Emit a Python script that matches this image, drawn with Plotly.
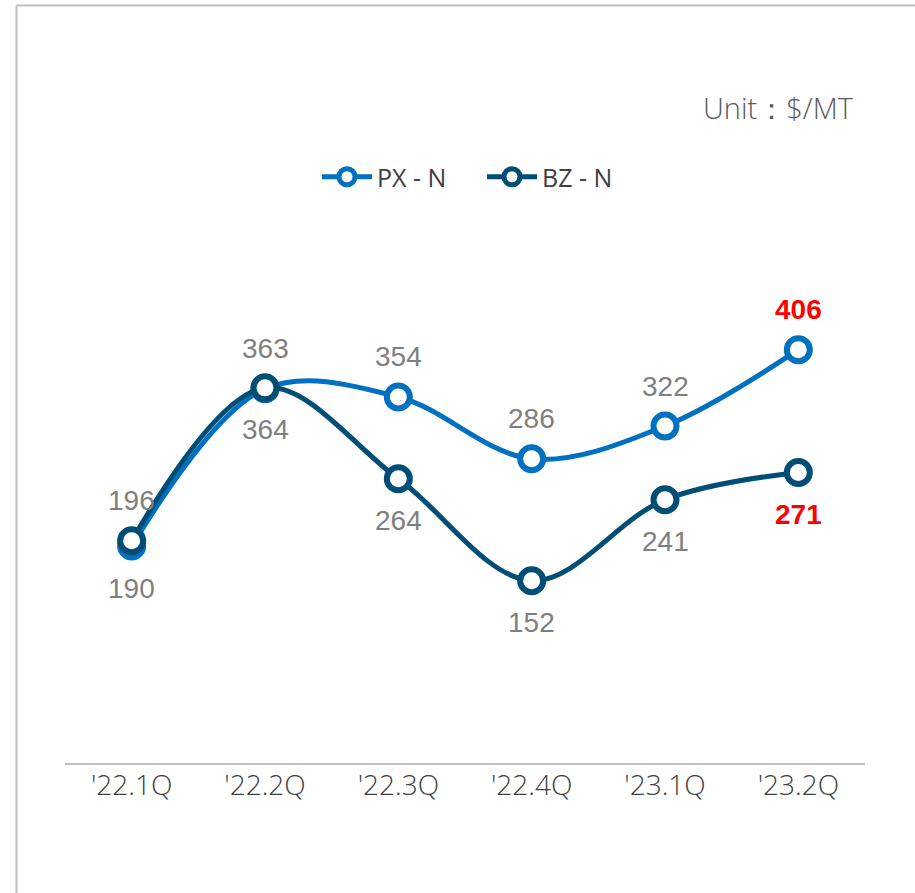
import plotly.graph_objects as go

# Quarterly naphtha spreads ($/MT)
quarters = ["'22.1Q", "'22.2Q", "'22.3Q", "'22.4Q", "'23.1Q", "'23.2Q"]
px_n = [190, 363, 354, 286, 322, 406]
bz_n = [196, 364, 264, 152, 241, 271]
px_label_side = ["below", "above", "above", "above", "above", "above"]
bz_label_side = ["above", "below", "below", "below", "below", "below"]

PX_COLOR = "#0070C0"
BZ_COLOR = "#004E75"
LABEL_GRAY = "#7F7F7F"
HIGHLIGHT = "#FF0000"

# geometry of the plotting area (pixels)
W, H = 915, 893
ML, MR, MT, MB = 65, 50, 230, 130
PLOT_W = W - ML - MR
PLOT_H = H - MT - MB
Y_RANGE = [-48.5, 537.6]


def px_to_paper_x(px):
    return (px - ML) / PLOT_W


def px_to_paper_y(py):
    return (H - MB - py) / PLOT_H


fig = go.Figure()

for name, vals, color in [("PX - N", px_n, PX_COLOR), ("BZ - N", bz_n, BZ_COLOR)]:
    fig.add_trace(go.Scatter(
        x=quarters, y=vals, name=name, mode="lines+markers",
        line=dict(color=color, width=5, shape="spline", smoothing=1.0),
        marker=dict(symbol="circle", size=23, color="white",
                    line=dict(color=color, width=6)),
        cliponaxis=False,
    ))

annotations = []
last = len(quarters) - 1
for vals, sides in [(px_n, px_label_side), (bz_n, bz_label_side)]:
    for i, (q, v, s) in enumerate(zip(quarters, vals, sides)):
        is_last = i == last
        annotations.append(dict(
            x=q, y=v, xref="x", yref="y", text=str(v), showarrow=False,
            yanchor="middle", xanchor="center",
            yshift=40 if s == "above" else -42,
            font=dict(family="Liberation Sans, Arial, sans-serif", size=28,
                      color=HIGHLIGHT if is_last else LABEL_GRAY,
                      weight="bold" if is_last else "normal"),
        ))

annotations.append(dict(
    x=px_to_paper_x(856), y=px_to_paper_y(108), xref="paper", yref="paper",
    text="Unit：$/MT", showarrow=False, xanchor="right", yanchor="middle",
    font=dict(family="Open Sans, sans-serif", size=29, color="#595959", weight=300),
))

border = dict(color="#BFBFBF", width=2)
shapes = [
    dict(type="line", xref="paper", yref="paper", layer="below",
         x0=px_to_paper_x(16.5), x1=px_to_paper_x(16.5),
         y0=px_to_paper_y(5.5), y1=px_to_paper_y(H + 10), line=border),
    dict(type="line", xref="paper", yref="paper", layer="below",
         x0=px_to_paper_x(16.5), x1=px_to_paper_x(W + 10),
         y0=px_to_paper_y(5.5), y1=px_to_paper_y(5.5), line=border),
]

fig.update_layout(
    width=W, height=H,
    margin=dict(l=ML, r=MR, t=MT, b=MB),
    paper_bgcolor="white", plot_bgcolor="white",
    showlegend=True,
    legend=dict(orientation="h", x=px_to_paper_x(482), y=px_to_paper_y(177),
                xanchor="center", yanchor="middle",
                font=dict(family="Open Sans, sans-serif", size=25, color="#404040"),
                itemwidth=50, entrywidth=100, entrywidthmode="pixels",
                tracegroupgap=0),
    xaxis=dict(showgrid=False, zeroline=False, showline=True,
               linecolor="#BFBFBF", linewidth=2, ticks="",
               ticklabelstandoff=-4,
               tickfont=dict(family="Open Sans, sans-serif", size=28,
                             color="#404040", weight=300),
               range=[-0.5, 5.5]),
    yaxis=dict(showgrid=False, zeroline=False, showticklabels=False,
               range=Y_RANGE),
    annotations=annotations,
    shapes=shapes,
)

fig.write_html("out.html")
